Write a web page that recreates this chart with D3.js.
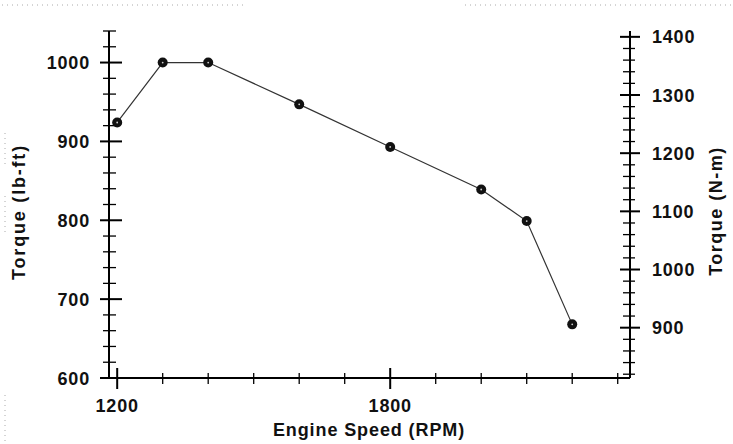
<!DOCTYPE html>
<html>
<head>
<meta charset="utf-8">
<script src="https://cdn.jsdelivr.net/npm/d3@7"></script>
<style>
  body { margin: 0; background: #fff; }
  text { font-family: "Liberation Sans", Arial, sans-serif; font-weight: bold; fill: #111; }
</style>
</head>
<body>
<div id="viz"></div>
<script>
// engine speed (RPM) and torque (lb-ft)
const rpm    = [1200, 1300, 1400, 1600, 1800, 2000, 2100, 2200];
const torque = [924, 1000, 1000, 947, 893, 839, 799, 668];

const xLabels = [1200, 1800];
const yLabels = [600, 700, 800, 900, 1000];
const nmLabels = [900, 1000, 1100, 1200, 1300, 1400];
const LBFT_TO_NM = 1.35582;

const W = 733, H = 444;
const L = 109, R = 630, T = 31, B = 378;

const svg = d3.select('#viz').append('svg')
  .attr('width', W).attr('height', H);

const x = d3.scaleLinear().domain([1182, 2327]).range([L, R]);
const y = d3.scaleLinear().domain([600, 1040]).range([B, T]);
const yNm = d3.scaleLinear().domain([600 * LBFT_TO_NM, 1040 * LBFT_TO_NM]).range([B, T]);

// faint scan edges
const edge = svg.append('g').attr('stroke', '#aaa').attr('stroke-dasharray', '1,4');
edge.append('line').attr('x1', 2).attr('x2', 245).attr('y1', 5).attr('y2', 5);
edge.append('line').attr('x1', 465).attr('x2', 733).attr('y1', 5).attr('y2', 5);
edge.append('line').attr('x1', 5).attr('x2', 5).attr('y1', 133).attr('y2', 165);
edge.append('line').attr('x1', 5).attr('x2', 5).attr('y1', 196).attr('y2', 232);
edge.append('line').attr('x1', 5).attr('x2', 5).attr('y1', 395).attr('y2', 442);

// axis lines
const axis = svg.append('g').attr('stroke', '#000');
axis.append('line').attr('x1', L).attr('x2', L).attr('y1', T).attr('y2', B).attr('stroke-width', 2);
axis.append('line').attr('x1', R).attr('x2', R).attr('y1', T).attr('y2', B).attr('stroke-width', 2);
axis.append('line').attr('x1', L).attr('x2', R).attr('y1', B).attr('y2', B).attr('stroke-width', 2);

// left ticks
const leftTicks = d3.range(600, 1041, 20);
axis.selectAll('.lt').data(leftTicks).join('line')
  .attr('x1', d => d % 100 === 0 ? L - 9 : L - 6)
  .attr('x2', d => d % 100 === 0 ? L + 13 : L + 7)
  .attr('y1', d => y(d)).attr('y2', d => y(d))
  .attr('stroke-width', d => d % 100 === 0 ? 2 : 1.3);

// right ticks
const rightTicks = d3.range(820, 1411, 20);
axis.selectAll('.rt').data(rightTicks).join('line')
  .attr('x1', d => d % 100 === 0 ? R - 10 : R - 7)
  .attr('x2', d => d % 100 === 0 ? R + 10 : R + 5)
  .attr('y1', d => yNm(d)).attr('y2', d => yNm(d))
  .attr('stroke-width', d => d % 100 === 0 ? 2 : 1.3);

// bottom ticks
const bottomTicks = d3.range(1200, 2301, 100);
axis.selectAll('.bt').data(bottomTicks).join('line')
  .attr('x1', d => x(d)).attr('x2', d => x(d))
  .attr('y1', d => xLabels.includes(d) ? B - 10 : B - 5)
  .attr('y2', d => xLabels.includes(d) ? B + 11 : B + 6)
  .attr('stroke-width', d => xLabels.includes(d) ? 2 : 1.3);

// tick labels
svg.selectAll('.yl').data(yLabels).join('text')
  .attr('x', 90).attr('y', d => y(d) + 6.5)
  .attr('text-anchor', 'end').attr('font-size', '18px')
  .attr('letter-spacing', '0.8px')
  .text(d => d);

svg.selectAll('.nl').data(nmLabels).join('text')
  .attr('x', 652).attr('y', d => yNm(d) + 6.5)
  .attr('font-size', '18px').attr('letter-spacing', '0.8px')
  .text(d => d);

svg.selectAll('.xl').data(xLabels).join('text')
  .attr('x', d => x(d)).attr('y', 412)
  .attr('text-anchor', 'middle').attr('font-size', '18px')
  .attr('letter-spacing', '0.8px')
  .text(d => d);

// axis titles
svg.append('text')
  .attr('transform', 'translate(25,212) rotate(-90)')
  .attr('text-anchor', 'middle').attr('font-size', '18px')
  .attr('letter-spacing', '1.8px')
  .text('Torque (lb-ft)');
svg.append('text')
  .attr('transform', 'translate(722,211) rotate(-90)')
  .attr('text-anchor', 'middle').attr('font-size', '18px')
  .attr('letter-spacing', '1.5px')
  .text('Torque (N-m)');
svg.append('text')
  .attr('x', 369).attr('y', 436)
  .attr('text-anchor', 'middle').attr('font-size', '18px')
  .attr('letter-spacing', '0.9px')
  .text('Engine Speed (RPM)');

// curve
const pts = rpm.map((r, i) => ({ r, t: torque[i] }));
const line = d3.line().x(d => x(d.r)).y(d => y(d.t));
svg.append('path').datum(pts)
  .attr('fill', 'none').attr('stroke', '#333').attr('stroke-width', 1.2)
  .attr('d', line);

svg.selectAll('.pt').data(pts).join('circle')
  .attr('cx', d => x(d.r)).attr('cy', d => y(d.t)).attr('r', 5)
  .attr('fill', '#111');
svg.selectAll('.pc').data(pts).join('circle')
  .attr('cx', d => x(d.r)).attr('cy', d => y(d.t)).attr('r', 0.9)
  .attr('fill', '#ccc');
</script>
</body>
</html>
